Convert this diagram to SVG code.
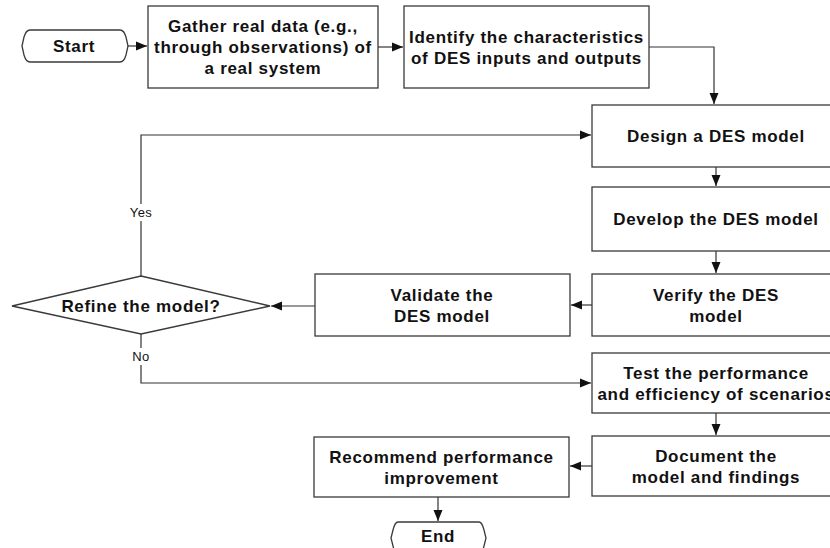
<svg xmlns="http://www.w3.org/2000/svg" width="830" height="548" viewBox="0 0 830 548">
<style>
.box{fill:#fff;stroke:#3a3a3a;stroke-width:1.3}
.t{font-family:"Liberation Sans",Arial,sans-serif;font-weight:bold;font-size:17px;letter-spacing:0.7px;fill:#111;text-anchor:middle}
.lbl{font-family:"Liberation Sans",Arial,sans-serif;font-size:13px;letter-spacing:0.4px;fill:#111;text-anchor:middle}
.c{fill:none;stroke:#333;stroke-width:1.2}
</style>
<defs>
<marker id="ah" markerUnits="userSpaceOnUse" markerWidth="12" markerHeight="10" refX="11" refY="5" orient="auto">
<path d="M0,0.5 L11,5 L0,9.5 Z" fill="#111"/>
</marker>
</defs>
<rect width="830" height="548" fill="#fff"/>
<g id="connectors">
<path class="c" d="M128,46 H147" marker-end="url(#ah)"/>
<path class="c" d="M378,47 H403" marker-end="url(#ah)"/>
<path class="c" d="M649,47 H714 V104" marker-end="url(#ah)"/>
<path class="c" d="M716,167 V186" marker-end="url(#ah)"/>
<path class="c" d="M716,251 V273" marker-end="url(#ah)"/>
<path class="c" d="M592,305 H571" marker-end="url(#ah)"/>
<path class="c" d="M315,306 H271" marker-end="url(#ah)"/>
<path class="c" d="M141,276 V135 H591" marker-end="url(#ah)"/>
<path class="c" d="M141,334 V383 H591" marker-end="url(#ah)"/>
<path class="c" d="M716,413 V435" marker-end="url(#ah)"/>
<path class="c" d="M592,466 H570" marker-end="url(#ah)"/>
<path class="c" d="M438,497 V521" marker-end="url(#ah)"/>
<rect x="126" y="204" width="30" height="17" fill="#fff"/>
<text class="lbl" x="141" y="217">Yes</text>
<rect x="130" y="348" width="22" height="17" fill="#fff"/>
<text class="lbl" x="141" y="361">No</text>
</g>
<g id="start">
<path class="box" d="M30,30 H120 Q124,30 126,37 L128,46 L126,55 Q124,62 120,62 H30 Q26,62 24,55 L22,46 L24,37 Q26,30 30,30 Z"/>
<text class="t" x="74" y="52">Start</text>
</g>
<g id="gather">
<rect class="box" x="148" y="6" width="230" height="82"/>
<text class="t" x="263" y="32">Gather real data (e.g.,</text>
<text class="t" x="263" y="53">through observations) of</text>
<text class="t" x="263" y="74">a real system</text>
</g>
<g id="identify">
<rect class="box" x="404" y="6" width="245" height="82"/>
<text class="t" x="526.5" y="42.5">Identify the characteristics</text>
<text class="t" x="526.5" y="63.5">of DES inputs and outputs</text>
</g>
<g id="design">
<rect class="box" x="592" y="105" width="250" height="62"/>
<text class="t" x="716" y="142">Design a DES model</text>
</g>
<g id="develop">
<rect class="box" x="592" y="187" width="250" height="64"/>
<text class="t" x="716" y="225">Develop the DES model</text>
</g>
<g id="verify">
<rect class="box" x="592" y="274" width="250" height="62"/>
<text class="t" x="716" y="300.5">Verify the DES</text>
<text class="t" x="716" y="321.5">model</text>
</g>
<g id="validate">
<rect class="box" x="315" y="274" width="255" height="62"/>
<text class="t" x="442" y="300.5">Validate the</text>
<text class="t" x="442" y="321.5">DES model</text>
</g>
<g id="refine">
<path class="box" d="M141,276 L270,306 L141,334 L12,306 Z"/>
<text class="t" x="141" y="312">Refine the model?</text>
</g>
<g id="test">
<rect class="box" x="592" y="353" width="250" height="60"/>
<text class="t" x="716" y="378.5">Test the performance</text>
<text class="t" x="716" y="399.5">and efficiency of scenarios</text>
</g>
<g id="document">
<rect class="box" x="592" y="436" width="250" height="60"/>
<text class="t" x="716" y="461.5">Document the</text>
<text class="t" x="716" y="482.5">model and findings</text>
</g>
<g id="recommend">
<rect class="box" x="314" y="437" width="255" height="60"/>
<text class="t" x="441.5" y="462.5">Recommend performance</text>
<text class="t" x="441.5" y="483.5">improvement</text>
</g>
<g id="end">
<path class="box" d="M398,522 H479 Q482,522 484,530 L486,538 L484,546 Q482,554 479,554 H398 Q395,554 393,546 L391,538 L393,530 Q395,522 398,522 Z"/>
<text class="t" x="438" y="542">End</text>
</g>
</svg>
